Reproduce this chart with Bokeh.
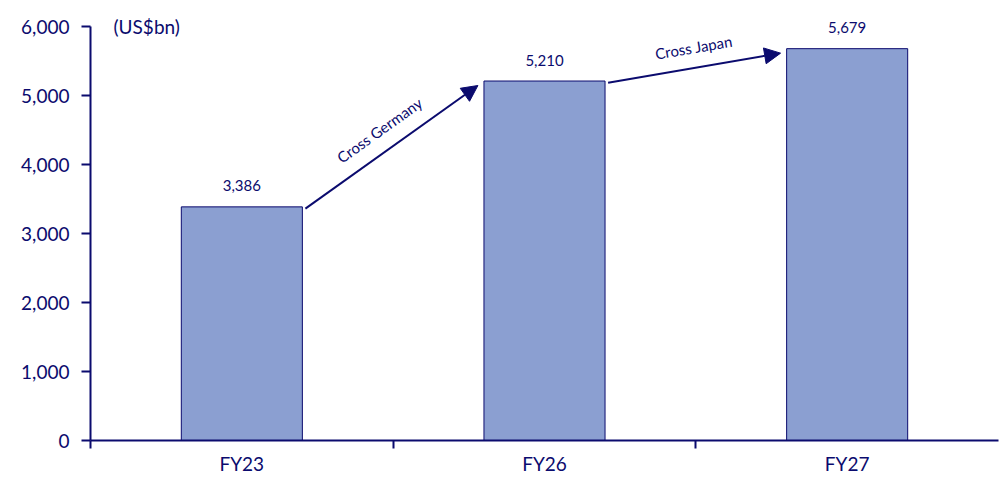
from bokeh.plotting import figure
from bokeh.models import Range1d, FixedTicker, Arrow, NormalHead, Label, ColumnDataSource
from bokeh.core.properties import value
from bokeh.embed import file_html
from bokeh.resources import INLINE
import math

categories = ["FY23", "FY26", "FY27"]
values = [3386, 5210, 5679]
value_labels = ["3,386", "5,210", "5,679"]
arrow_texts = ["Cross Germany", "Cross Japan"]
y_ticks = [0, 1000, 2000, 3000, 4000, 5000, 6000]
unit_text = "(US$bn)"

NAVY = "#0b0b6e"
BAR = "#8b9fd1"
FONT = "Lato"

centers = [i + 0.5 for i in range(len(categories))]
bar_w = 0.4
Y_TOP = 6377

p = figure(width=1007, height=477, output_backend="svg", toolbar_location=None,
           x_range=Range1d(0, len(categories)), y_range=Range1d(0, Y_TOP),
           min_border_left=90, min_border_right=9, min_border_top=0, min_border_bottom=35)
p.outline_line_color = None
p.xgrid.visible = False
p.ygrid.visible = False
p.background_fill_color = "white"

src = ColumnDataSource(dict(x=centers, top=values, lab=value_labels))
p.vbar(x="x", top="top", width=bar_w, bottom=0, source=src,
       fill_color=BAR, line_color=NAVY, line_width=1)

p.text(x="x", y="top", text="lab", source=src, text_align="center",
       text_baseline="middle", y_offset=-21, text_font=value(FONT),
       text_font_size="15px", text_color=NAVY)

# y axis
ya = p.yaxis[0]
ya.ticker = FixedTicker(ticks=y_ticks)
ya.bounds = (0, 6000)
ya.major_label_overrides = {t: f"{t:,}" for t in y_ticks}
ya.axis_line_color = NAVY
ya.axis_line_width = 2
ya.major_tick_line_color = NAVY
ya.major_tick_line_width = 2
ya.major_tick_out = 9
ya.major_tick_in = 0
ya.minor_tick_line_color = None
ya.major_label_text_font = FONT
ya.major_label_text_font_size = "19px"
ya.major_label_text_color = NAVY
ya.major_label_standoff = 12

# x axis: labels at centers, ticks at boundaries
xa = p.xaxis[0]
xa.ticker = FixedTicker(ticks=centers, minor_ticks=list(range(len(categories))))
xa.major_label_overrides = {c: n for c, n in zip(centers, categories)}
xa.axis_line_color = NAVY
xa.axis_line_width = 2
xa.major_tick_line_color = None
xa.major_tick_out = 0
xa.major_tick_in = 0
xa.minor_tick_line_color = NAVY
xa.minor_tick_line_width = 2
xa.minor_tick_out = 8
xa.minor_tick_in = 0
xa.major_label_text_font = FONT
xa.major_label_text_font_size = "19px"
xa.major_label_text_color = NAVY
xa.major_label_standoff = 3

# arrows between bars
shifts = [0, 3]
for i in range(len(values) - 1):
    x0 = centers[i] + bar_w / 2 + 0.01
    y0 = values[i] - 25
    x1 = centers[i + 1] - bar_w / 2 - 0.02
    y1 = values[i + 1] - 65
    p.add_layout(Arrow(end=NormalHead(size=16, fill_color=NAVY, line_color=NAVY),
                       x_start=x0, y_start=y0, x_end=x1, y_end=y1,
                       line_color=NAVY, line_width=2))
    dx_px = (x1 - x0) * 302.7
    dy_px = (y1 - y0) * 0.069
    ang = math.atan2(dy_px, dx_px)
    off = 21
    p.add_layout(Label(x=(x0 + x1) / 2, y=(y0 + y1) / 2, text=arrow_texts[i],
                       angle=ang, angle_units="rad",
                       x_offset=-off * math.sin(ang) + shifts[i], y_offset=off * math.cos(ang),
                       text_align="center", text_baseline="middle",
                       text_font=FONT, text_font_size="15px", text_color=NAVY))

p.add_layout(Label(x=0.076, y=6000, text=unit_text, text_align="left",
                   text_baseline="middle", text_font=FONT, text_font_size="19px",
                   text_color=NAVY))

open("out.html", "w").write(file_html(p, INLINE))
